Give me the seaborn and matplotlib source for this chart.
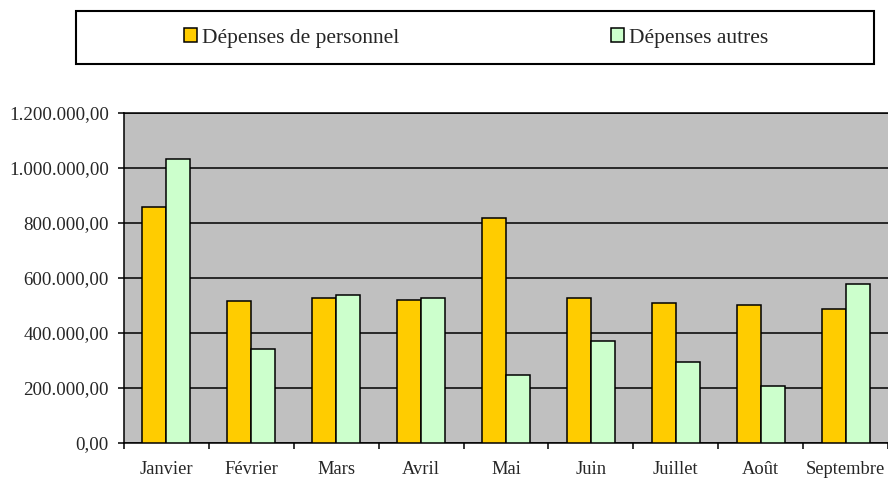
import numpy as np
import pandas as pd
import matplotlib
matplotlib.use("Agg")
import matplotlib.pyplot as plt
import seaborn as sns
from matplotlib.patches import Rectangle, Patch
from matplotlib.ticker import FuncFormatter, MultipleLocator

# données
mois = ["Janvier", "Février", "Mars", "Avril", "Mai", "Juin", "Juillet", "Août", "Septembre"]
personnel = [857000, 515000, 526000, 520000, 817000, 526000, 510000, 503000, 486000]
autres = [1031000, 343000, 539000, 526000, 247000, 370000, 293000, 207000, 579000]
series = ["Dépenses de personnel", "Dépenses autres"]
couleurs = ["#FFCC00", "#CCFFCC"]

df = pd.DataFrame({
    "Mois": mois * 2,
    "Série": [series[0]] * len(mois) + [series[1]] * len(mois),
    "Montant": personnel + autres,
})

sns.set_style("white")
plt.rcParams["font.family"] = ["Liberation Serif", "DejaVu Serif"]

fig = plt.figure(figsize=(8.88, 4.79), dpi=100)
ax = fig.add_axes([124 / 888, 1 - 443 / 479, 764 / 888, 330 / 479])
ax.set_facecolor("#C0C0C0")

sns.barplot(data=df, x="Mois", y="Montant", hue="Série", hue_order=series,
            palette=couleurs, width=0.565, gap=0, edgecolor="black",
            linewidth=1.1, saturation=1, legend=False, ax=ax, zorder=3)

ax.set_xlim(-0.5, len(mois) - 0.5)
ax.set_ylim(0, 1200000)
ax.yaxis.set_major_locator(MultipleLocator(200000))


def fmt(v, pos):
    s = f"{v:,.2f}"
    return s.replace(",", " ").replace(".", ",").replace(" ", ".")


ax.yaxis.set_major_formatter(FuncFormatter(fmt))
ax.grid(axis="y", color="black", linewidth=1.1, zorder=1)
ax.set_axisbelow(True)

for side in ["top", "left", "bottom"]:
    ax.spines[side].set_visible(True)
    ax.spines[side].set_color("black")
    ax.spines[side].set_linewidth(1.1)
ax.spines["right"].set_visible(False)

ax.set_xticks(np.arange(-0.5, len(mois)), minor=True)
ax.tick_params(axis="x", which="major", length=0, pad=13, labelsize=13.3)
ax.tick_params(axis="x", which="minor", length=4, width=1.1, color="black", direction="out")
ax.tick_params(axis="y", which="major", length=4, width=1.1, color="black",
               direction="out", pad=7, labelsize=13.6)
ax.tick_params(left=True, bottom=True, which="both")
ax.set_xlabel("")
ax.set_ylabel("")

# cadre de la légende
fig.patches.append(Rectangle((76 / 888, 1 - 64 / 479), 798 / 888, 53.5 / 479,
                             transform=fig.transFigure, facecolor="white",
                             edgecolor="black", linewidth=1.5, zorder=0))
handles = [Patch(facecolor=c, edgecolor="black", linewidth=1.1) for c in couleurs]
fig.legend(handles, series, loc="center", bbox_to_anchor=(476 / 888, 1 - 38 / 479),
           ncol=2, frameon=False, fontsize=15.5, handlelength=0.6, handleheight=0.6,
           handletextpad=0.23, columnspacing=9.85, borderpad=0)

fig.savefig("out.png", dpi=100)
